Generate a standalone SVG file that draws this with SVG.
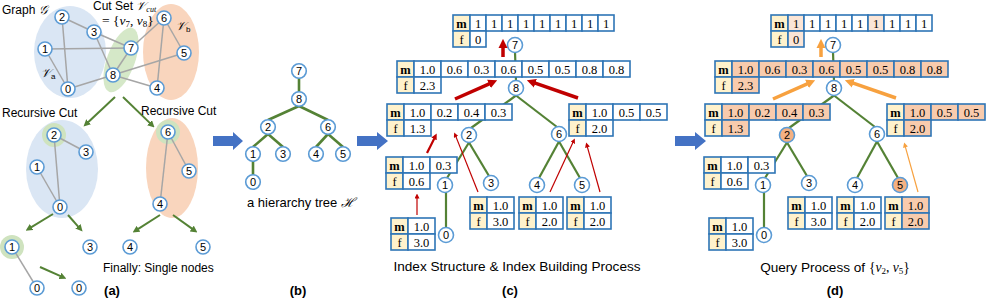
<svg xmlns="http://www.w3.org/2000/svg" width="986" height="300" viewBox="0 0 986 300">
<defs>
<style>
.n circle{fill:#fff;stroke:#5B9BD5;stroke-width:1.6}
.n text{font-family:"Liberation Sans",Arial,sans-serif;font-size:11px;text-anchor:middle;fill:#000}
.n.q circle{fill:#F4B183}
.ge{stroke:#A6A6A6;stroke-width:1.5;fill:none}
.te{stroke:#548235;stroke-width:2.2;fill:none}
.ga{stroke:#548235;stroke-width:2;fill:none;marker-end:url(#mg)}
.rt{stroke:#C00000;stroke-width:3.5;fill:none;marker-end:url(#mrb)}
.rm{stroke:#C00000;stroke-width:2.2;fill:none;marker-end:url(#mrm)}
.rs{stroke:#C00000;stroke-width:1.2;fill:none;marker-end:url(#mrs)}
.ot{stroke:#F7A13F;stroke-width:3.5;fill:none;marker-end:url(#mob)}
.os{stroke:#F7A13F;stroke-width:1.2;fill:none;marker-end:url(#mos)}
.tb rect{fill:#fff;stroke:#2E75B6;stroke-width:1.6}
.tb rect.h{fill:#FFF2CC}
.tb rect.p{fill:#F8CBAD}
.tb rect.l{fill:#FBE5D6}
.tb text{font-family:"Liberation Serif","Times New Roman",serif;font-size:12.5px;text-anchor:middle;fill:#000}
.tb text.b{font-weight:bold}
.lbl{font-family:"Liberation Sans",Arial,sans-serif;font-size:12px;fill:#000}
.mth{font-family:"Liberation Serif","DejaVu Serif",serif;font-style:italic}
.cap{font-family:"Liberation Sans",Arial,sans-serif;font-size:13px;font-weight:bold;text-anchor:middle;fill:#000}
.halo{fill:#CFE3BF}
.ba{fill:#4472C4}
</style>
<marker id="mg" markerUnits="userSpaceOnUse" markerWidth="7" markerHeight="7" viewBox="0 0 10 10" refX="1" refY="5" orient="auto"><path d="M0,0L10,5L0,10z" fill="#548235"/></marker>
<marker id="mrb" markerUnits="userSpaceOnUse" markerWidth="9" markerHeight="10" viewBox="0 0 10 10" refX="1" refY="5" orient="auto"><path d="M0,0L10,5L0,10z" fill="#C00000"/></marker>
<marker id="mrm" markerUnits="userSpaceOnUse" markerWidth="6" markerHeight="7" viewBox="0 0 10 10" refX="1" refY="5" orient="auto"><path d="M0,0L10,5L0,10z" fill="#C00000"/></marker>
<marker id="mrs" markerUnits="userSpaceOnUse" markerWidth="5" markerHeight="5" viewBox="0 0 10 10" refX="1" refY="5" orient="auto"><path d="M0,0L10,5L0,10z" fill="#C00000"/></marker>
<marker id="mob" markerUnits="userSpaceOnUse" markerWidth="9" markerHeight="10" viewBox="0 0 10 10" refX="1" refY="5" orient="auto"><path d="M0,0L10,5L0,10z" fill="#F7A13F"/></marker>
<marker id="mos" markerUnits="userSpaceOnUse" markerWidth="5" markerHeight="5" viewBox="0 0 10 10" refX="1" refY="5" orient="auto"><path d="M0,0L10,5L0,10z" fill="#F7A13F"/></marker>
</defs>
<rect width="986" height="300" fill="#fff"/>

<!-- ===== Panel (a) ===== -->
<g id="a-regions">
<ellipse cx="70" cy="52" rx="36" ry="46" fill="#DAE6F4"/>
<ellipse cx="171" cy="52" rx="28" ry="48" fill="#F9D5BD"/>
<ellipse cx="121" cy="60" rx="14" ry="34" fill="#D5E8C8" transform="rotate(20 121 60)"/>
<ellipse cx="62" cy="169" rx="36" ry="49" fill="#DAE6F4"/>
<ellipse cx="172" cy="168" rx="26" ry="50" fill="#F9D5BD"/>
<circle class="halo" cx="54" cy="135" r="12"/>
<circle class="halo" cx="168" cy="132" r="12"/>
<circle class="halo" cx="12" cy="247" r="12"/>
</g>
<g id="a-connectors">
<line class="ge" x1="62" y1="17" x2="94" y2="32"/>
<line class="ge" x1="62" y1="17" x2="68" y2="89"/>
<line class="ge" x1="94" y1="32" x2="131" y2="48"/>
<line class="ge" x1="94" y1="32" x2="113" y2="75"/>
<line class="ge" x1="45" y1="49" x2="131" y2="48"/>
<line class="ge" x1="45" y1="49" x2="68" y2="89"/>
<line class="ge" x1="131" y1="48" x2="113" y2="75"/>
<line class="ge" x1="113" y1="75" x2="68" y2="89"/>
<line class="ge" x1="113" y1="75" x2="157" y2="88"/>
<line class="ge" x1="113" y1="75" x2="184" y2="53"/>
<line class="ge" x1="131" y1="48" x2="164" y2="18"/>
<line class="ge" x1="164" y1="18" x2="184" y2="53"/>
<line class="ge" x1="164" y1="18" x2="157" y2="88"/>
<line class="ge" x1="54" y1="135" x2="86" y2="152"/>
<line class="ge" x1="54" y1="135" x2="60" y2="207"/>
<line class="ge" x1="37" y1="167" x2="60" y2="207"/>
<line class="ge" x1="168" y1="132" x2="189" y2="171"/>
<line class="ge" x1="168" y1="132" x2="160" y2="204"/>
<line class="ge" x1="12" y1="247" x2="37" y2="288"/>
<line class="ga" x1="115" y1="97" x2="88.1" y2="122.2"/>
<line class="ga" x1="123" y1="97" x2="150" y2="123.1"/>
<line class="ga" x1="53" y1="214" x2="31" y2="227.4"/>
<line class="ga" x1="68" y1="215" x2="78.4" y2="226.8"/>
<line class="ga" x1="160" y1="215" x2="137.9" y2="229.2"/>
<line class="ga" x1="173" y1="215" x2="192.3" y2="228.9"/>
<line class="ga" x1="40" y1="267" x2="60.6" y2="276.2"/>
</g>
<g id="a-n2" class="n"><circle cx="62" cy="17" r="7"/><text x="62" y="21">2</text></g>
<g id="a-n3" class="n"><circle cx="94" cy="32" r="7"/><text x="94" y="36">3</text></g>
<g id="a-n1" class="n"><circle cx="45" cy="49" r="7"/><text x="45" y="53">1</text></g>
<g id="a-n7" class="n"><circle cx="131" cy="48" r="7"/><text x="131" y="52">7</text></g>
<g id="a-n6" class="n"><circle cx="164" cy="18" r="7"/><text x="164" y="22">6</text></g>
<g id="a-n5" class="n"><circle cx="184" cy="53" r="7"/><text x="184" y="57">5</text></g>
<g id="a-n8" class="n"><circle cx="113" cy="75" r="7"/><text x="113" y="79">8</text></g>
<g id="a-n0" class="n"><circle cx="68" cy="89" r="7"/><text x="68" y="93">0</text></g>
<g id="a-n4" class="n"><circle cx="157" cy="88" r="7"/><text x="157" y="92">4</text></g>
<g id="a-l2" class="n"><circle cx="54" cy="135" r="7"/><text x="54" y="139">2</text></g>
<g id="a-l3" class="n"><circle cx="86" cy="152" r="7"/><text x="86" y="156">3</text></g>
<g id="a-l1" class="n"><circle cx="37" cy="167" r="7"/><text x="37" y="171">1</text></g>
<g id="a-l0" class="n"><circle cx="60" cy="207" r="7"/><text x="60" y="211">0</text></g>
<g id="a-r6" class="n"><circle cx="168" cy="132" r="7"/><text x="168" y="136">6</text></g>
<g id="a-r5" class="n"><circle cx="189" cy="171" r="7"/><text x="189" y="175">5</text></g>
<g id="a-r4" class="n"><circle cx="160" cy="204" r="7"/><text x="160" y="208">4</text></g>
<g id="a-s1" class="n"><circle cx="12" cy="247" r="7"/><text x="12" y="251">1</text></g>
<g id="a-s3" class="n"><circle cx="90" cy="247" r="7"/><text x="90" y="251">3</text></g>
<g id="a-s4" class="n"><circle cx="130" cy="247" r="7"/><text x="130" y="251">4</text></g>
<g id="a-s5" class="n"><circle cx="203" cy="247" r="7"/><text x="203" y="251">5</text></g>
<g id="a-s0a" class="n"><circle cx="37" cy="288" r="7"/><text x="37" y="292">0</text></g>
<g id="a-s0b" class="n"><circle cx="79" cy="288" r="7"/><text x="79" y="292">0</text></g>
<g id="a-text">
<text class="lbl" x="2" y="14">Graph <tspan class="mth">𝒢</tspan></text>
<text class="lbl" x="93" y="10">Cut Set <tspan class="mth">𝒱</tspan><tspan class="mth" style="font-size:8px" dy="1.5">cut</tspan></text>
<text class="lbl" x="102" y="25" style="font-size:13.5px"><tspan style="font-family:'Liberation Serif',serif">= {</tspan><tspan class="mth">v</tspan><tspan style="font-size:9px;font-family:'Liberation Serif',serif" dy="2">7</tspan><tspan dy="-2" style="font-family:'Liberation Serif',serif">, </tspan><tspan class="mth">v</tspan><tspan style="font-size:9px;font-family:'Liberation Serif',serif" dy="2">8</tspan><tspan dy="-2" style="font-family:'Liberation Serif',serif">}</tspan></text>
<text class="lbl" x="176" y="30"><tspan class="mth">𝒱</tspan><tspan style="font-size:8px" dy="2">b</tspan></text>
<text class="lbl" x="41" y="77"><tspan class="mth">𝒱</tspan><tspan style="font-size:8px" dy="2">a</tspan></text>
<text class="lbl" x="2" y="117">Recursive Cut</text>
<text class="lbl" x="141" y="115">Recursive Cut</text>
<text class="lbl" x="103" y="272">Finally: Single nodes</text>
<text class="cap" x="112" y="295">(a)</text>
</g>

<!-- block arrows -->
<g id="block-arrows">
<polygon class="ba" points="213,136 233,136 233,132 243,141 233,150 233,146 213,146"/>
<polygon class="ba" points="357,136 377,136 377,132 388,141 377,150 377,146 357,146"/>
<polygon class="ba" points="675,136 695,136 695,132 706,141 695,150 695,146 675,146"/>
</g>

<!-- ===== Panel (b) ===== -->
<g id="b-connectors">
<line class="te" style="stroke-width:2.6" x1="299" y1="78" x2="299" y2="92"/>
<line class="te" style="stroke-width:2.6" x1="299" y1="106" x2="268" y2="120"/>
<line class="te" style="stroke-width:2.6" x1="299" y1="106" x2="328" y2="120"/>
<line class="te" style="stroke-width:2.6" x1="268" y1="134" x2="253" y2="147"/>
<line class="te" style="stroke-width:2.6" x1="268" y1="134" x2="283" y2="147"/>
<line class="te" style="stroke-width:2.6" x1="328" y1="134" x2="316" y2="147"/>
<line class="te" style="stroke-width:2.6" x1="328" y1="134" x2="343" y2="147"/>
<line class="te" style="stroke-width:2.6" x1="253" y1="161" x2="253" y2="175"/>
</g>
<g id="b-n7" class="n"><circle cx="299" cy="71" r="7.3"/><text x="299" y="75">7</text></g>
<g id="b-n8" class="n"><circle cx="299" cy="99" r="7.3"/><text x="299" y="103">8</text></g>
<g id="b-n2" class="n"><circle cx="268" cy="127" r="7.3"/><text x="268" y="131">2</text></g>
<g id="b-n6" class="n"><circle cx="328" cy="127" r="7.3"/><text x="328" y="131">6</text></g>
<g id="b-n1" class="n"><circle cx="253" cy="154" r="7.3"/><text x="253" y="158">1</text></g>
<g id="b-n3" class="n"><circle cx="283" cy="154" r="7.3"/><text x="283" y="158">3</text></g>
<g id="b-n4" class="n"><circle cx="316" cy="154" r="7.3"/><text x="316" y="158">4</text></g>
<g id="b-n5" class="n"><circle cx="343" cy="154" r="7.3"/><text x="343" y="158">5</text></g>
<g id="b-n0" class="n"><circle cx="253" cy="182" r="7.3"/><text x="253" y="186">0</text></g>
<text class="lbl" x="247" y="207" style="font-size:13px">a hierarchy tree <tspan class="mth">ℋ</tspan></text>
<text class="cap" x="298" y="295">(b)</text>

<!-- ===== Panel (c) ===== -->
<g id="c-connectors">
<line class="te" x1="515" y1="52" x2="516" y2="81"/>
<line class="te" x1="516" y1="95.5" x2="471" y2="128"/>
<line class="te" x1="516" y1="95.5" x2="557" y2="127"/>
<line class="te" x1="469" y1="142.5" x2="447" y2="178"/>
<line class="te" x1="469" y1="142.5" x2="489" y2="176"/>
<line class="te" x1="559" y1="141.5" x2="539" y2="178"/>
<line class="te" x1="559" y1="141.5" x2="580" y2="178"/>
<line class="te" x1="446" y1="192" x2="446" y2="228"/>
</g>
<g id="c-t7" class="tb">
<rect class="h" x="453" y="15" width="17" height="16"/>
<rect x="470" y="15" width="16" height="16"/><rect x="486" y="15" width="16" height="16"/><rect x="502" y="15" width="16" height="16"/><rect x="518" y="15" width="16" height="16"/><rect x="534" y="15" width="16" height="16"/><rect x="550" y="15" width="16" height="16"/><rect x="566" y="15" width="16" height="16"/><rect x="582" y="15" width="16" height="16"/><rect x="598" y="15" width="16" height="16"/>
<rect class="h" x="453" y="31" width="17" height="16"/><rect x="470" y="31" width="16" height="16"/>
<text class="b" x="461.5" y="27.5">m</text>
<text x="478" y="27.5">1</text><text x="494" y="27.5">1</text><text x="510" y="27.5">1</text><text x="526" y="27.5">1</text><text x="542" y="27.5">1</text><text x="558" y="27.5">1</text><text x="574" y="27.5">1</text><text x="590" y="27.5">1</text><text x="606" y="27.5">1</text>
<text x="461.5" y="43.5">f</text><text x="478" y="43.5">0</text>
</g>
<g id="c-t8" class="tb">
<rect class="h" x="397" y="61" width="17" height="16"/>
<rect x="414" y="61" width="27" height="16"/><rect x="441" y="61" width="27" height="16"/><rect x="468" y="61" width="27" height="16"/><rect x="495" y="61" width="27" height="16"/><rect x="522" y="61" width="27" height="16"/><rect x="549" y="61" width="27" height="16"/><rect x="576" y="61" width="27" height="16"/><rect x="603" y="61" width="27" height="16"/>
<rect class="h" x="397" y="77" width="17" height="16"/><rect x="414" y="77" width="27" height="16"/>
<text class="b" x="405.5" y="73.5">m</text>
<text x="427.5" y="73.5">1.0</text><text x="454.5" y="73.5">0.6</text><text x="481.5" y="73.5">0.3</text><text x="508.5" y="73.5">0.6</text><text x="535.5" y="73.5">0.5</text><text x="562.5" y="73.5">0.5</text><text x="589.5" y="73.5">0.8</text><text x="616.5" y="73.5">0.8</text>
<text x="405.5" y="89.5">f</text><text x="427.5" y="89.5">2.3</text>
</g>
<g id="c-t2" class="tb">
<rect class="h" x="387" y="104" width="17" height="16"/>
<rect x="404" y="104" width="27" height="16"/><rect x="431" y="104" width="27" height="16"/><rect x="458" y="104" width="27" height="16"/><rect x="485" y="104" width="27" height="16"/>
<rect class="h" x="387" y="120" width="17" height="16"/><rect x="404" y="120" width="27" height="16"/>
<text class="b" x="395.5" y="116.5">m</text>
<text x="417.5" y="116.5">1.0</text><text x="444.5" y="116.5">0.2</text><text x="471.5" y="116.5">0.4</text><text x="498.5" y="116.5">0.3</text>
<text x="395.5" y="132.5">f</text><text x="417.5" y="132.5">1.3</text>
</g>
<g id="c-t6" class="tb">
<rect class="h" x="569" y="104" width="17" height="16"/>
<rect x="586" y="104" width="27" height="16"/><rect x="613" y="104" width="27" height="16"/><rect x="640" y="104" width="27" height="16"/>
<rect class="h" x="569" y="120" width="17" height="16"/><rect x="586" y="120" width="27" height="16"/>
<text class="b" x="577.5" y="116.5">m</text>
<text x="599.5" y="116.5">1.0</text><text x="626.5" y="116.5">0.5</text><text x="653.5" y="116.5">0.5</text>
<text x="577.5" y="132.5">f</text><text x="599.5" y="132.5">2.0</text>
</g>
<g id="c-t1" class="tb">
<rect class="h" x="386" y="157" width="17" height="16"/>
<rect x="403" y="157" width="27" height="16"/><rect x="430" y="157" width="27" height="16"/>
<rect class="h" x="386" y="173" width="17" height="16"/><rect x="403" y="173" width="27" height="16"/>
<text class="b" x="394.5" y="169.5">m</text>
<text x="416.5" y="169.5">1.0</text><text x="443.5" y="169.5">0.3</text>
<text x="394.5" y="185.5">f</text><text x="416.5" y="185.5">0.6</text>
</g>
<g id="c-t3" class="tb">
<rect class="h" x="470" y="197" width="17" height="16"/><rect x="487" y="197" width="27" height="16"/>
<rect class="h" x="470" y="213" width="17" height="16"/><rect x="487" y="213" width="27" height="16"/>
<text class="b" x="478.5" y="209.5">m</text><text x="500.5" y="209.5">1.0</text>
<text x="478.5" y="225.5">f</text><text x="500.5" y="225.5">3.0</text>
</g>
<g id="c-t4" class="tb">
<rect class="h" x="519" y="197" width="17" height="16"/><rect x="536" y="197" width="27" height="16"/>
<rect class="h" x="519" y="213" width="17" height="16"/><rect x="536" y="213" width="27" height="16"/>
<text class="b" x="527.5" y="209.5">m</text><text x="549.5" y="209.5">1.0</text>
<text x="527.5" y="225.5">f</text><text x="549.5" y="225.5">2.0</text>
</g>
<g id="c-t5" class="tb">
<rect class="h" x="567" y="197" width="17" height="16"/><rect x="584" y="197" width="27" height="16"/>
<rect class="h" x="567" y="213" width="17" height="16"/><rect x="584" y="213" width="27" height="16"/>
<text class="b" x="575.5" y="209.5">m</text><text x="597.5" y="209.5">1.0</text>
<text x="575.5" y="225.5">f</text><text x="597.5" y="225.5">2.0</text>
</g>
<g id="c-t0" class="tb">
<rect class="h" x="391" y="218" width="17" height="16"/><rect x="408" y="218" width="27" height="16"/>
<rect class="h" x="391" y="234" width="17" height="16"/><rect x="408" y="234" width="27" height="16"/>
<text class="b" x="399.5" y="230.5">m</text><text x="421.5" y="230.5">1.0</text>
<text x="399.5" y="246.5">f</text><text x="421.5" y="246.5">3.0</text>
</g>
<g id="c-n7" class="n"><circle cx="515" cy="45" r="7.5"/><text x="515" y="49">7</text></g>
<g id="c-n8" class="n"><circle cx="516" cy="88" r="7.5"/><text x="516" y="92">8</text></g>
<g id="c-n2" class="n"><circle cx="469" cy="135" r="7.5"/><text x="469" y="139">2</text></g>
<g id="c-n6" class="n"><circle cx="559" cy="134" r="7.5"/><text x="559" y="138">6</text></g>
<g id="c-n1" class="n"><circle cx="445" cy="185" r="7.5"/><text x="445" y="189">1</text></g>
<g id="c-n3" class="n"><circle cx="491" cy="183" r="7.5"/><text x="491" y="187">3</text></g>
<g id="c-n4" class="n"><circle cx="537" cy="185" r="7.5"/><text x="537" y="189">4</text></g>
<g id="c-n5" class="n"><circle cx="582" cy="185" r="7.5"/><text x="582" y="189">5</text></g>
<g id="c-n0" class="n"><circle cx="446" cy="235" r="7.5"/><text x="446" y="239">0</text></g>
<g id="c-arrows">
<line class="rt" x1="503" y1="57" x2="503" y2="47"/>
<line class="rt" x1="455" y1="99" x2="489.8" y2="83.6"/>
<line class="rt" x1="578" y1="98" x2="534.5" y2="82.9"/>
<line class="rm" x1="427" y1="153" x2="434.3" y2="138.4"/>
<line class="rs" x1="478" y1="192" x2="455.9" y2="136.6"/>
<line class="rs" x1="417" y1="215" x2="417" y2="198"/>
<line class="rs" x1="550" y1="192" x2="572.9" y2="142.5"/>
<line class="rs" x1="600" y1="192" x2="587.35" y2="146.8"/>
</g>
<text class="lbl" x="517" y="271" style="font-size:13.6px;text-anchor:middle">Index Structure &amp; Index Building Process</text>
<text class="cap" x="510" y="295">(c)</text>

<!-- ===== Panel (d) ===== -->
<g id="d-connectors" transform="translate(318,0)">
<line class="te" x1="515" y1="52" x2="516" y2="81"/>
<line class="te" x1="516" y1="95.5" x2="471" y2="128"/>
<line class="te" x1="516" y1="95.5" x2="557" y2="127"/>
<line class="te" x1="469" y1="142.5" x2="447" y2="178"/>
<line class="te" x1="469" y1="142.5" x2="489" y2="176"/>
<line class="te" x1="559" y1="141.5" x2="539" y2="178"/>
<line class="te" x1="559" y1="141.5" x2="580" y2="178"/>
<line class="te" x1="446" y1="192" x2="446" y2="228"/>
</g>
<g transform="translate(318,0)">
<g id="d-t7" class="tb">
<rect class="h" x="453" y="15" width="17" height="16"/>
<rect class="l" x="470" y="15" width="16" height="16"/><rect x="486" y="15" width="16" height="16"/><rect x="502" y="15" width="16" height="16"/><rect x="518" y="15" width="16" height="16"/><rect x="534" y="15" width="16" height="16"/><rect class="l" x="550" y="15" width="16" height="16"/><rect x="566" y="15" width="16" height="16"/><rect x="582" y="15" width="16" height="16"/><rect x="598" y="15" width="16" height="16"/>
<rect class="h" x="453" y="31" width="17" height="16"/><rect class="l" x="470" y="31" width="16" height="16"/>
<text class="b" x="461.5" y="27.5">m</text>
<text x="478" y="27.5">1</text><text x="494" y="27.5">1</text><text x="510" y="27.5">1</text><text x="526" y="27.5">1</text><text x="542" y="27.5">1</text><text x="558" y="27.5">1</text><text x="574" y="27.5">1</text><text x="590" y="27.5">1</text><text x="606" y="27.5">1</text>
<text x="461.5" y="43.5">f</text><text x="478" y="43.5">0</text>
</g>
<g id="d-t8" class="tb">
<rect class="h" x="397" y="61" width="17" height="16"/>
<rect class="p" x="414" y="61" width="27" height="16"/><rect class="p" x="441" y="61" width="27" height="16"/><rect class="p" x="468" y="61" width="27" height="16"/><rect class="p" x="495" y="61" width="27" height="16"/><rect class="p" x="522" y="61" width="27" height="16"/><rect class="p" x="549" y="61" width="27" height="16"/><rect class="p" x="576" y="61" width="27" height="16"/><rect class="p" x="603" y="61" width="27" height="16"/>
<rect class="h" x="397" y="77" width="17" height="16"/><rect class="p" x="414" y="77" width="27" height="16"/>
<text class="b" x="405.5" y="73.5">m</text>
<text x="427.5" y="73.5">1.0</text><text x="454.5" y="73.5">0.6</text><text x="481.5" y="73.5">0.3</text><text x="508.5" y="73.5">0.6</text><text x="535.5" y="73.5">0.5</text><text x="562.5" y="73.5">0.5</text><text x="589.5" y="73.5">0.8</text><text x="616.5" y="73.5">0.8</text>
<text x="405.5" y="89.5">f</text><text x="427.5" y="89.5">2.3</text>
</g>
<g id="d-t2" class="tb">
<rect class="h" x="387" y="104" width="17" height="16"/>
<rect class="p" x="404" y="104" width="27" height="16"/><rect class="p" x="431" y="104" width="27" height="16"/><rect class="p" x="458" y="104" width="27" height="16"/><rect class="p" x="485" y="104" width="27" height="16"/>
<rect class="h" x="387" y="120" width="17" height="16"/><rect class="p" x="404" y="120" width="27" height="16"/>
<text class="b" x="395.5" y="116.5">m</text>
<text x="417.5" y="116.5">1.0</text><text x="444.5" y="116.5">0.2</text><text x="471.5" y="116.5">0.4</text><text x="498.5" y="116.5">0.3</text>
<text x="395.5" y="132.5">f</text><text x="417.5" y="132.5">1.3</text>
</g>
<g id="d-t6" class="tb">
<rect class="h" x="569" y="104" width="17" height="16"/>
<rect class="p" x="586" y="104" width="27" height="16"/><rect class="p" x="613" y="104" width="27" height="16"/><rect class="p" x="640" y="104" width="27" height="16"/>
<rect class="h" x="569" y="120" width="17" height="16"/><rect class="p" x="586" y="120" width="27" height="16"/>
<text class="b" x="577.5" y="116.5">m</text>
<text x="599.5" y="116.5">1.0</text><text x="626.5" y="116.5">0.5</text><text x="653.5" y="116.5">0.5</text>
<text x="577.5" y="132.5">f</text><text x="599.5" y="132.5">2.0</text>
</g>
<g id="d-t1" class="tb">
<rect class="h" x="386" y="157" width="17" height="16"/>
<rect x="403" y="157" width="27" height="16"/><rect x="430" y="157" width="27" height="16"/>
<rect class="h" x="386" y="173" width="17" height="16"/><rect x="403" y="173" width="27" height="16"/>
<text class="b" x="394.5" y="169.5">m</text>
<text x="416.5" y="169.5">1.0</text><text x="443.5" y="169.5">0.3</text>
<text x="394.5" y="185.5">f</text><text x="416.5" y="185.5">0.6</text>
</g>
<g id="d-t3" class="tb">
<rect class="h" x="470" y="197" width="17" height="16"/><rect x="487" y="197" width="27" height="16"/>
<rect class="h" x="470" y="213" width="17" height="16"/><rect x="487" y="213" width="27" height="16"/>
<text class="b" x="478.5" y="209.5">m</text><text x="500.5" y="209.5">1.0</text>
<text x="478.5" y="225.5">f</text><text x="500.5" y="225.5">3.0</text>
</g>
<g id="d-t4" class="tb">
<rect class="h" x="519" y="197" width="17" height="16"/><rect x="536" y="197" width="27" height="16"/>
<rect class="h" x="519" y="213" width="17" height="16"/><rect x="536" y="213" width="27" height="16"/>
<text class="b" x="527.5" y="209.5">m</text><text x="549.5" y="209.5">1.0</text>
<text x="527.5" y="225.5">f</text><text x="549.5" y="225.5">2.0</text>
</g>
<g id="d-t5" class="tb">
<rect class="h" x="567" y="197" width="17" height="16"/><rect class="p" x="584" y="197" width="27" height="16"/>
<rect class="h" x="567" y="213" width="17" height="16"/><rect class="p" x="584" y="213" width="27" height="16"/>
<text class="b" x="575.5" y="209.5">m</text><text x="597.5" y="209.5">1.0</text>
<text x="575.5" y="225.5">f</text><text x="597.5" y="225.5">2.0</text>
</g>
<g id="d-t0" class="tb">
<rect class="h" x="391" y="218" width="17" height="16"/><rect x="408" y="218" width="27" height="16"/>
<rect class="h" x="391" y="234" width="17" height="16"/><rect x="408" y="234" width="27" height="16"/>
<text class="b" x="399.5" y="230.5">m</text><text x="421.5" y="230.5">1.0</text>
<text x="399.5" y="246.5">f</text><text x="421.5" y="246.5">3.0</text>
</g>
<g id="d-n7" class="n"><circle cx="515" cy="45" r="7.5"/><text x="515" y="49">7</text></g>
<g id="d-n8" class="n"><circle cx="516" cy="88" r="7.5"/><text x="516" y="92">8</text></g>
<g id="d-n2" class="n q"><circle cx="469" cy="135" r="7.5"/><text x="469" y="139">2</text></g>
<g id="d-n6" class="n"><circle cx="559" cy="134" r="7.5"/><text x="559" y="138">6</text></g>
<g id="d-n1" class="n"><circle cx="445" cy="185" r="7.5"/><text x="445" y="189">1</text></g>
<g id="d-n3" class="n"><circle cx="491" cy="183" r="7.5"/><text x="491" y="187">3</text></g>
<g id="d-n4" class="n"><circle cx="537" cy="185" r="7.5"/><text x="537" y="189">4</text></g>
<g id="d-n5" class="n q"><circle cx="582" cy="185" r="7.5"/><text x="582" y="189">5</text></g>
<g id="d-n0" class="n"><circle cx="446" cy="235" r="7.5"/><text x="446" y="239">0</text></g>
<g id="d-arrows">
<line class="ot" x1="503" y1="57" x2="503" y2="47"/>
<line class="ot" x1="455" y1="99" x2="489.8" y2="83.6"/>
<line class="ot" x1="578" y1="98" x2="534.5" y2="82.9"/>
<line class="os" x1="600" y1="192" x2="587.35" y2="146.8"/>
</g>
</g>
<text class="lbl" x="835" y="272" style="font-size:13.6px;text-anchor:middle">Query Process of <tspan style="font-family:'Liberation Serif',serif">{</tspan><tspan class="mth">v</tspan><tspan style="font-size:9px;font-family:'Liberation Serif',serif" dy="2">2</tspan><tspan dy="-2" style="font-family:'Liberation Serif',serif">, </tspan><tspan class="mth">v</tspan><tspan style="font-size:9px;font-family:'Liberation Serif',serif" dy="2">5</tspan><tspan dy="-2" style="font-family:'Liberation Serif',serif">}</tspan></text>
<text class="cap" x="835" y="295">(d)</text>
</svg>
